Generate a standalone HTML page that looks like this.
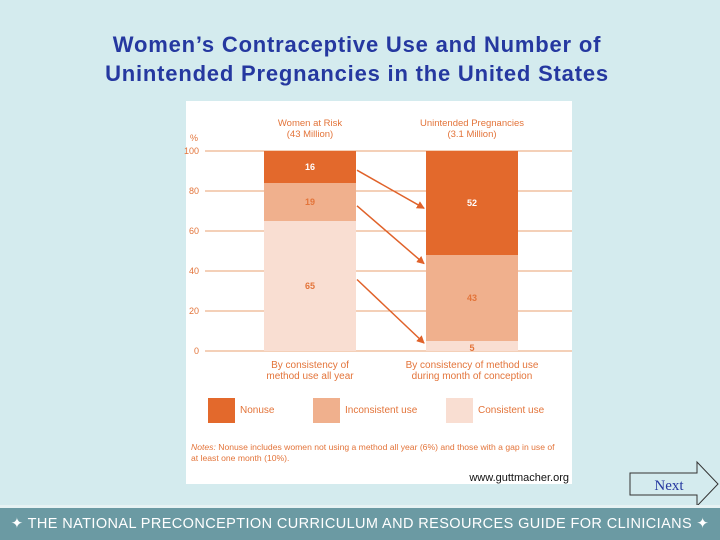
<!DOCTYPE html>
<html><head><meta charset="utf-8"><style>
body{margin:0;width:720px;height:540px;background:#d4ebee;position:relative;overflow:hidden;font-family:"Liberation Sans",sans-serif}
#title{position:absolute;left:0;width:714px;top:30px;text-align:center;color:#2538a0;font-size:22px;font-weight:bold;letter-spacing:0.8px;line-height:29px}
#footer{position:absolute;left:0;top:505px;width:720px;height:32px;background:#6b9aa3;color:#fff;font-size:14.5px;line-height:32px;text-align:center;letter-spacing:0.4px;border-top:3px solid #e6f2f3;white-space:nowrap}
</style></head><body>
<div id="title">Women’s Contraceptive Use and Number of<br>Unintended Pregnancies in the United States</div>
<svg id="chart" width="720" height="540" style="position:absolute;left:0;top:0"></svg>
<div id="footer">✦ THE NATIONAL PRECONCEPTION CURRICULUM AND RESOURCES GUIDE FOR CLINICIANS ✦</div>
<script>
const categories=["Women at Risk","Unintended Pregnancies"];
const consistentVals=[65,5];
const inconsistentVals=[19,43];
const nonuseVals=[16,52];
const yTicks=[0,20,40,60,80,100];
const NS="http://www.w3.org/2000/svg";
const svg=document.getElementById('chart');
function y(v){return 351-v*2;}
const barX=[264,426], barW=92;
const C={non:"#e3692c",inc:"#f0b08d",con:"#f9ded2",txt:"#e3743a"};
function mk(t,a,p){const e=document.createElementNS(NS,t);for(const k in a)e.setAttribute(k,a[k]);(p||svg).appendChild(e);return e;}
const bg=mk('rect',{x:186,y:101,width:386,height:383,fill:"#fff"});


yTicks.forEach(t=>{
 const l=mk('line',{x1:205,x2:572,y1:y(t),y2:y(t),stroke:"#e8a071","stroke-width":1});
 
 
 const tx=mk('text',{x:199,y:y(t)+3,"text-anchor":"end","font-size":9,fill:C.txt});tx.textContent=t;
 
 
});
const pc=mk('text',{x:190,y:141,"font-size":9,fill:C.txt});pc.textContent="%";


const subs=["(43 Million)","(3.1 Million)"];
categories.forEach((c,i)=>{
 const cx=barX[i]+barW/2;
 const segs=[[0,consistentVals[i],C.con,C.txt],[consistentVals[i],inconsistentVals[i],C.inc,C.txt],[consistentVals[i]+inconsistentVals[i],nonuseVals[i],C.non,"#fff"]];
 const nm=["consistent","inconsistent","nonuse"];
 segs.forEach((s,j)=>{
  const r=mk('rect',{x:barX[i],y:y(s[0]+s[1]),width:barW,height:s[1]*2,fill:s[2]});
  
  
  const t=mk('text',{x:cx,y:y(s[0]+s[1]/2)+(s[1]<8?5:3),"text-anchor":"middle","font-size":9,"font-weight":"bold",fill:s[3]});t.textContent=s[1];
  
  
 });
 const h=mk('text',{x:cx,y:126,"text-anchor":"middle","font-size":9.5,fill:C.txt});h.textContent=c;
 
 
 const h2=mk('text',{x:cx,y:137,"text-anchor":"middle","font-size":9.5,fill:C.txt});h2.textContent=subs[i];
 
 
});
const xl=[["By consistency of","method use all year"],["By consistency of method use","during month of conception"]];
xl.forEach((ls,i)=>ls.forEach((s,k)=>{const t=mk('text',{x:barX[i]+barW/2,y:368+k*11,"text-anchor":"middle","font-size":10,fill:C.txt});t.textContent=s;
 
 }));
const defs=mk('defs',{});const m=mk('marker',{id:'ah',markerWidth:8,markerHeight:8,refX:7,refY:4,orient:'auto',markerUnits:'userSpaceOnUse'},defs);mk('path',{d:"M0,0L8,4L0,8z",fill:"#e0622a"},m);
const fromV=[consistentVals[0]+inconsistentVals[0]+nonuseVals[0]*0.4,consistentVals[0]+inconsistentVals[0]*0.4,consistentVals[0]*0.55];
const toV=[consistentVals[1]+inconsistentVals[1]+nonuseVals[1]*0.45,consistentVals[1]+inconsistentVals[1]*0.9,consistentVals[1]*0.8];
fromV.forEach((f,k)=>{const a=mk('line',{x1:357,y1:y(f),x2:424,y2:y(toV[k]),stroke:"#e0622a","stroke-width":1.5,"marker-end":"url(#ah)"});
 
 });
[["Nonuse",C.non,208],["Inconsistent use",C.inc,313],["Consistent use",C.con,446]].forEach(l=>{
 const r=mk('rect',{x:l[2],y:398,width:27,height:25,fill:l[1]});
 
 
 const t=mk('text',{x:l[2]+32,y:413,"font-size":10,fill:C.txt});t.textContent=l[0];
 
 
});
const n1=mk('text',{x:191,y:450,"font-size":8.6,fill:C.txt});n1.innerHTML='<tspan font-style="italic">Notes:</tspan> Nonuse includes women not using a method all year (6%) and those with a gap in use of';


const n2=mk('text',{x:191,y:461,"font-size":8.6,fill:C.txt});n2.textContent='at least one month (10%).';


const w=mk('text',{x:569,y:481,"text-anchor":"end","font-size":11,fill:"#111"});w.textContent='www.guttmacher.org';


const nb=mk('path',{d:"M630,473H697V462L718,484L697,506V495H630Z",fill:"#d4ebee",stroke:"#333","stroke-width":1});


const nt=mk('text',{x:669,y:490,"text-anchor":"middle","font-size":15,fill:"#2538a0","font-family":"Liberation Serif"});nt.textContent='Next';


</script>
</body></html>
